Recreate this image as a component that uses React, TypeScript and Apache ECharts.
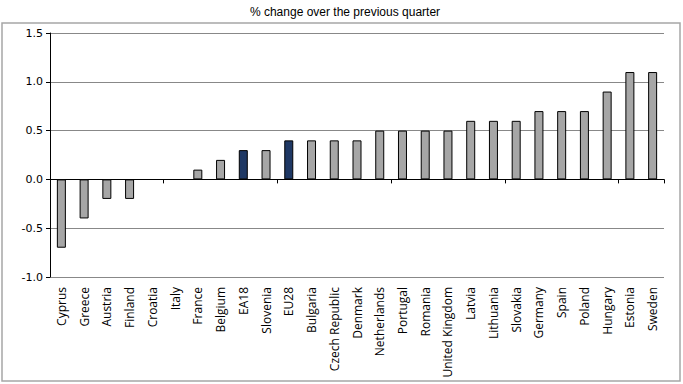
import React, { useEffect, useRef } from "react";
import * as echarts from "echarts";

const categories = [
  "Cyprus", "Greece", "Austria", "Finland", "Croatia", "Italy", "France", "Belgium",
  "EA18", "Slovenia", "EU28", "Bulgaria", "Czech Republic", "Denmark", "Netherlands",
  "Portugal", "Romania", "United Kingdom", "Latvia", "Lithuania", "Slovakia", "Germany",
  "Spain", "Poland", "Hungary", "Estonia", "Sweden",
];
const values = [
  -0.7, -0.4, -0.2, -0.2, 0, 0, 0.1, 0.2, 0.3, 0.3, 0.4, 0.4, 0.4, 0.4, 0.5, 0.5, 0.5,
  0.5, 0.6, 0.6, 0.6, 0.7, 0.7, 0.7, 0.9, 1.1, 1.1,
];
const highlighted = ["EA18", "EU28"];
const titleText = "% change over the previous quarter";

export default function App() {
  const ref = useRef<HTMLDivElement>(null);
  useEffect(() => {
    document.body.style.margin = "0";
    const chart = echarts.init(ref.current!, null, { renderer: "svg" });
    chart.setOption({
      animation: false,
      backgroundColor: "#fff",
      title: {
        text: titleText,
        left: 340,
        textAlign: "center",
        top: 1,
        textStyle: { fontFamily: "Liberation Sans", fontSize: 12, fontWeight: "normal", color: "#000" },
      },
      graphic: [
        {
          type: "rect",
          shape: { x: 2, y: 23, width: 678, height: 358 },
          style: { fill: "none", stroke: "#a6a6a6", lineWidth: 1.5 },
          silent: true,
        },
      ],
      grid: { left: 50, right: 19, top: 33, bottom: 107 },
      xAxis: [
        {
          type: "category",
          data: categories,
          axisLine: { onZero: true, lineStyle: { color: "#000", width: 1 } },
          axisTick: { show: true, length: 4, lineStyle: { color: "#000" } },
          axisLabel: { show: false },
        },
        {
          type: "category",
          data: categories,
          position: "bottom",
          axisLine: { show: false, onZero: false },
          axisTick: { show: false },
          axisLabel: {
            rotate: 90,
            margin: 10,
            interval: 0,
            fontFamily: "Open Sans",
            fontSize: 12,
            color: "#000",
          },
        },
      ],
      yAxis: {
        type: "value",
        min: -1,
        max: 1.5,
        interval: 0.5,
        axisLine: { show: true, lineStyle: { color: "#000" } },
        axisTick: { show: true, length: 4, lineStyle: { color: "#000" } },
        axisLabel: {
          formatter: (v: number) => v.toFixed(1),
          fontFamily: "DejaVu Sans",
          fontSize: 11,
          color: "#000",
          margin: 7,
        },
        splitLine: { lineStyle: { color: "#888", width: 1 } },
      },
      series: [
        {
          type: "bar",
          xAxisIndex: 0,
          barWidth: 9,
          data: values.map((v, i) => ({
            value: v,
            itemStyle: {
              color: highlighted.includes(categories[i]) ? "#1f3864" : "#a6a6a6",
              borderColor: "#000",
              borderWidth: v === 0 ? 0 : 1,
            },
          })),
        },
      ],
    });
    return () => chart.dispose();
  }, []);
  return <div ref={ref} style={{ position: "fixed", left: 0, top: 0, width: 683, height: 384 }} />;
}
